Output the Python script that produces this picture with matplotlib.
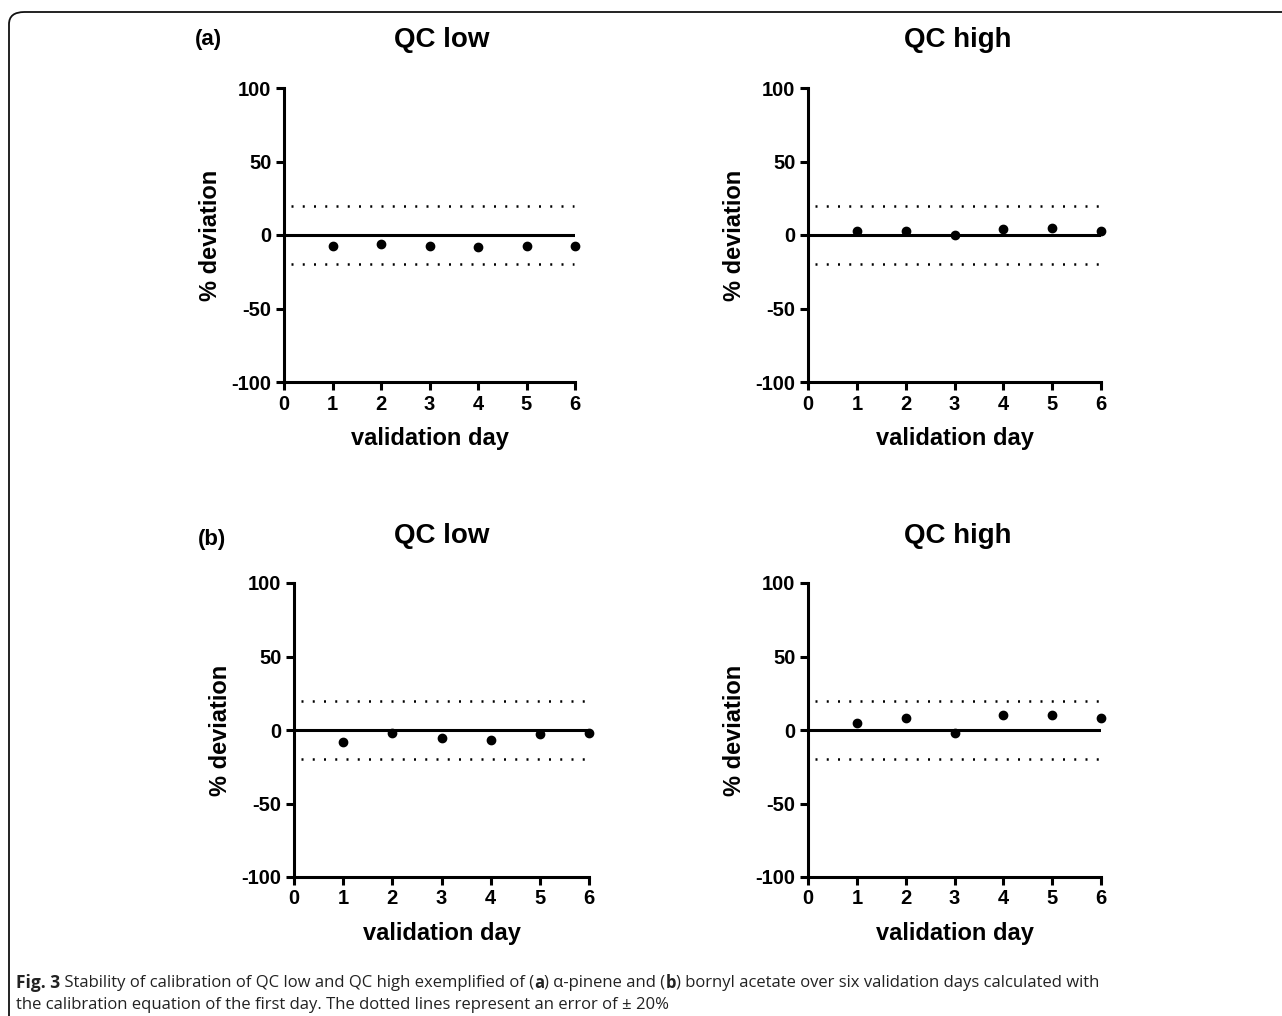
import numpy as np
import matplotlib.pyplot as plt
from matplotlib.patches import FancyBboxPatch

# data
days = [1, 2, 3, 4, 5, 6]
a_low = [-7.2, -6.3, -7.2, -8.2, -7.2, -7.2]
a_high = [2.7, 2.7, -0.2, 3.9, 4.8, 3.0]
b_low = [-7.9, -1.8, -5.2, -7.0, -2.7, -1.8]
b_high = [5.0, 7.9, -1.8, 10.2, 10.2, 7.9]
limit = 20

plt.rcParams['font.family'] = ['Liberation Sans', 'DejaVu Sans']
plt.rcParams['axes.unicode_minus'] = False

fig = plt.figure(figsize=(12.82, 10.16), dpi=100)

# rounded frame (open at right and bottom)
frame = FancyBboxPatch((9 / 1282, -0.2), 1.2, 1.2 - 12 / 1016,
                       boxstyle='round,pad=0,rounding_size=0.012',
                       transform=fig.transFigure, fill=False,
                       edgecolor='#111111', linewidth=1.3, clip_on=False)
fig.patches.append(frame)

panels = [
    # data, left, bottom, width, title, title_x, title_y
    (a_low, 284, 382, 291, 'QC low', 442, 40),
    (a_high, 808, 382, 293, 'QC high', 958, 40),
    (b_low, 294, 877, 295, 'QC low', 442, 536),
    (b_high, 808, 877, 293, 'QC high', 958, 536),
]

for vals, left, bot, w, title, tx, ty in panels:
    ax = fig.add_axes([left / 1282, 1 - bot / 1016, w / 1282, 294 / 1016])
    ax.plot([0, 6], [0, 0], color='black', lw=2.2, solid_capstyle='butt')
    ax.plot([0.15, 5.97], [limit, limit], color='black', lw=1.8, ls=(0, (0.8, 3.7)))
    ax.plot([0.15, 5.97], [-limit, -limit], color='black', lw=1.8, ls=(0, (0.8, 3.7)))
    ax.plot(days, vals, 'o', color='black', ms=6, clip_on=False, zorder=5)
    ax.set_xlim(0, 6)
    ax.set_ylim(-100, 100)
    ax.set_xticks(range(7))
    ax.set_yticks([-100, -50, 0, 50, 100])
    for s in ['top', 'right']:
        ax.spines[s].set_visible(False)
    for s in ['left', 'bottom']:
        ax.spines[s].set_linewidth(2.2)
    ax.tick_params(width=2.2, length=6, labelsize=14.5, pad=3)
    for lab in ax.get_xticklabels() + ax.get_yticklabels():
        lab.set_fontweight('bold')
    ax.set_xlabel('validation day', fontsize=17, fontweight='bold', labelpad=10)
    ax.set_ylabel('% deviation', fontsize=17, fontweight='bold', labelpad=7)
    fig.text(tx / 1282, 1 - ty / 1016, title, fontsize=20, fontweight='bold',
             ha='center', va='center')

fig.text(208 / 1282, 1 - 40 / 1016, '(a)', fontsize=16, fontweight='bold',
         ha='center', va='center')
fig.text(212 / 1282, 1 - 540 / 1016, '(b)', fontsize=16, fontweight='bold',
         ha='center', va='center')

# caption, drawn piece by piece so that some words can be bold
cap_font = ['Open Sans', 'DejaVu Sans']
line1 = [('Fig. 3', 'bold', 12.5), (' Stability of calibration of QC low and QC high exemplified of (', 'normal', 12),
         ('a', 'bold', 12), (') \u03b1-pinene and (', 'normal', 12), ('b', 'bold', 12),
         (') bornyl acetate over six validation days calculated with', 'normal', 12)]
line2 = [('the calibration equation of the first day. The dotted lines represent an error of \u00b1 20%',
          'normal', 12)]

renderer = fig.canvas.get_renderer()
for pieces, ypix in [(line1, 983), (line2, 1005)]:
    xpix = 16
    for txt, wt, fs in pieces:
        t = fig.text(xpix / 1282, 1 - ypix / 1016, txt, fontsize=fs, fontweight=wt,
                     family=cap_font, va='center', color='#222222')
        bb = t.get_window_extent(renderer=renderer)
        xpix += bb.width

fig.savefig('out.png', dpi=100)
